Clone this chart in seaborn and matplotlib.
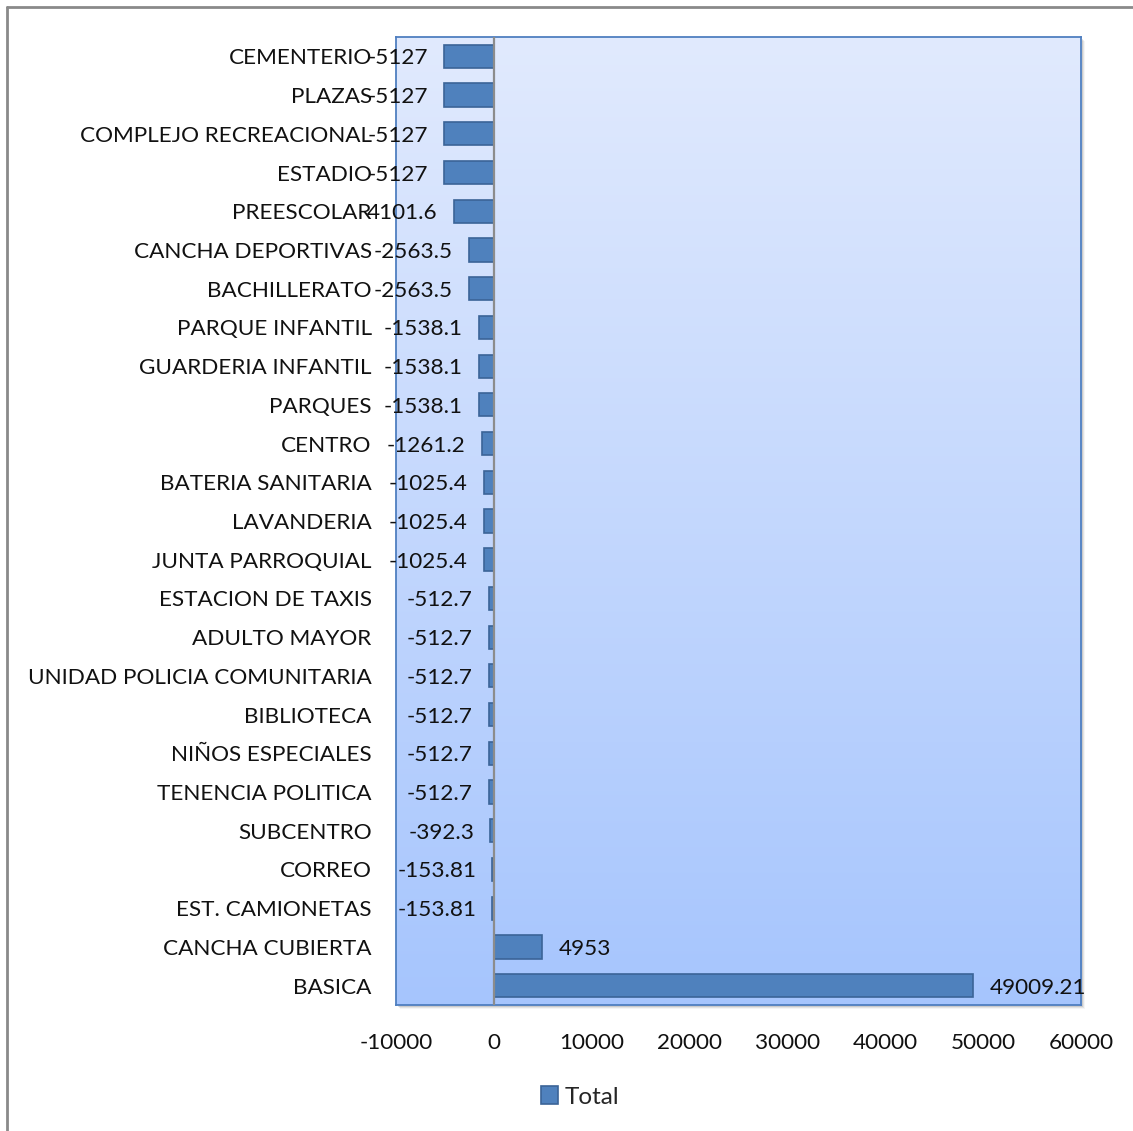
import numpy as np
import pandas as pd
import matplotlib
matplotlib.use("Agg")
import matplotlib.pyplot as plt
from matplotlib.patches import Patch, Rectangle
from matplotlib.lines import Line2D
import seaborn as sns

categories = [
    "CEMENTERIO", "PLAZAS", "COMPLEJO RECREACIONAL", "ESTADIO", "PREESCOLAR",
    "CANCHA DEPORTIVAS", "BACHILLERATO", "PARQUE INFANTIL", "GUARDERIA INFANTIL",
    "PARQUES", "CENTRO", "BATERIA SANITARIA", "LAVANDERIA", "JUNTA PARROQUIAL",
    "ESTACION DE TAXIS", "ADULTO MAYOR", "UNIDAD POLICIA COMUNITARIA",
    "BIBLIOTECA", "NIÑOS ESPECIALES", "TENENCIA POLITICA", "SUBCENTRO",
    "CORREO", "EST. CAMIONETAS", "CANCHA CUBIERTA", "BASICA",
]
totals = [
    -5127, -5127, -5127, -5127, -4101.6,
    -2563.5, -2563.5, -1538.1, -1538.1,
    -1538.1, -1261.2, -1025.4, -1025.4, -1025.4,
    -512.7, -512.7, -512.7,
    -512.7, -512.7, -512.7, -392.3,
    -153.81, -153.81, 4953, 49009.21,
]
value_labels = [
    "-5127", "-5127", "-5127", "-5127", "4101.6",
    "-2563.5", "-2563.5", "-1538.1", "-1538.1",
    "-1538.1", "-1261.2", "-1025.4", "-1025.4", "-1025.4",
    "-512.7", "-512.7", "-512.7",
    "-512.7", "-512.7", "-512.7", "-392.3",
    "-153.81", "-153.81", "4953", "49009.21",
]
x_ticks = [-10000, 0, 10000, 20000, 30000, 40000, 50000, 60000]

df = pd.DataFrame({"categoria": categories, "Total": totals})

sns.set_theme(style="white")
plt.rcParams["font.family"] = ["Lato", "DejaVu Sans"]

FS = 16.2
W, H = 1133, 1131
fig = plt.figure(figsize=(W / 100, H / 100), dpi=100)
fig.patch.set_facecolor("white")

left, right, top, bottom = 396, 1081, 37, 1005
ax = fig.add_axes([left / W, 1 - bottom / H, (right - left) / W, (bottom - top) / H])

# soft drop shadow behind the plot area
for i, a in enumerate([0.10, 0.07, 0.04]):
    off = (i + 2) / W
    fig.add_artist(Rectangle((left / W + off, 1 - bottom / H - (i + 2) / H),
                             (right - left) / W, (bottom - top) / H,
                             transform=fig.transFigure, facecolor="black",
                             alpha=a, edgecolor="none", zorder=0))

# vertical gradient fill of the plot area
top_c = np.array([225, 234, 253]) / 255
bot_c = np.array([166, 197, 254]) / 255
t = np.linspace(0, 1, 256)[:, None]
grad = (top_c[None, :] * (1 - t) + bot_c[None, :] * t)[:, None, :]
ax.imshow(grad, extent=[-10000, 60000, 24.5, -0.5], aspect="auto",
          zorder=0, interpolation="bilinear")

sns.barplot(data=df, x="Total", y="categoria", orient="h", ax=ax,
            color="#4F81BD", saturation=1, width=0.6,
            edgecolor="#3B6497", linewidth=1.2, zorder=3)

ax.set_xlim(-10000, 60000)
ax.set_ylim(24.5, -0.5)
ax.set_xticks(x_ticks)
ax.set_xticklabels([str(v) for v in x_ticks], fontsize=FS, color="#111111")
ax.tick_params(axis="x", length=0, pad=20)
ax.tick_params(axis="y", length=0, pad=17.5, labelsize=FS, labelcolor="#111111")
for lbl in ax.get_yticklabels():
    lbl.set_va("center_baseline")
ax.set_xlabel("")
ax.set_ylabel("")
ax.axvline(0, color="#8C8C8C", linewidth=1.6, zorder=4)

for s in ax.spines.values():
    s.set_color("#4F7FC0")
    s.set_linewidth(1.3)

texts = ax.bar_label(ax.containers[0], labels=value_labels, padding=11.5,
                     fontsize=FS, color="#111111", zorder=5)
for tx in texts:
    tx.set_va("center_baseline")

# legend below the chart
handle = Patch(facecolor="#4F81BD", edgecolor="#3B6497", linewidth=1.2)
fig.legend([handle], ["Total"], loc="center", bbox_to_anchor=(0.512, 1 - 1097 / H),
           frameon=False, fontsize=17.5, handlelength=0.7, handleheight=0.7,
           handletextpad=0.25)

# outer frame: top and left edges
fig.add_artist(Line2D([7 / W, 1], [1 - 7 / H, 1 - 7 / H], transform=fig.transFigure,
                      color="#8A8A8A", linewidth=2))
fig.add_artist(Line2D([7 / W, 7 / W], [0, 1 - 7 / H], transform=fig.transFigure,
                      color="#8A8A8A", linewidth=2))

fig.savefig("out.png", dpi=100)
